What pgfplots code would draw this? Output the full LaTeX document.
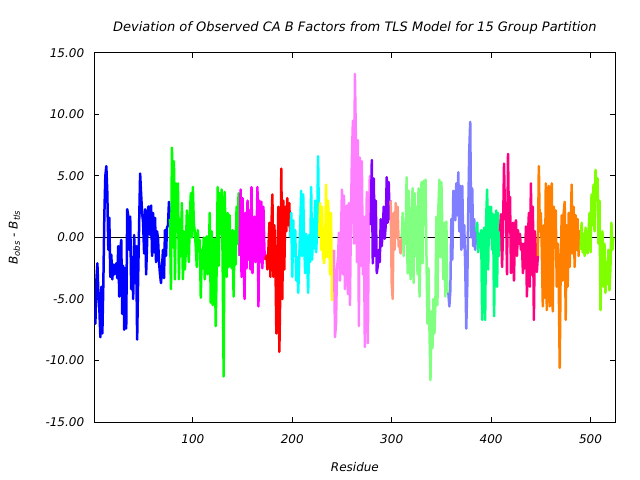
\documentclass[border=0pt]{standalone}
\usepackage{fontspec}
\setmainfont{DejaVu Sans}[ItalicFont={DejaVu Sans Oblique}]
\usepackage{pgfplots}
\pgfplotsset{compat=1.18}

\definecolor{c01}{HTML}{0000FF}
\definecolor{c02}{HTML}{00FF00}
\definecolor{c03}{HTML}{FF00FF}
\definecolor{c04}{HTML}{FF0000}
\definecolor{c05}{HTML}{00FFFF}
\definecolor{c06}{HTML}{FFFF00}
\definecolor{c07}{HTML}{FF80FF}
\definecolor{c08}{HTML}{8000FF}
\definecolor{c09}{HTML}{FF9980}
\definecolor{c10}{HTML}{80FF80}
\definecolor{c11}{HTML}{8080FF}
\definecolor{c12}{HTML}{00FF80}
\definecolor{c13}{HTML}{FF0080}
\definecolor{c14}{HTML}{FF8000}
\definecolor{c15}{HTML}{80FF00}

\begin{document}
\fontsize{12bp}{14bp}\selectfont
\begin{tikzpicture}
\begin{axis}[
    width=521bp, height=369bp, scale only axis,
    xmin=1, xmax=525, ymin=-15, ymax=15,
    xtick={100,200,300,400,500},
    ytick={-15,-10,-5,0,5,10,15},
    /pgf/number format/assume math mode=true,
    yticklabel style={/pgf/number format/fixed, /pgf/number format/fixed zerofill,
        /pgf/number format/precision=2, xshift=-6bp},
    ticklabel style={font=\itshape},
    xticklabel style={yshift=-8bp},
    tick style={black, line width=1bp},
    major tick length=5bp,
    axis line style={line width=1bp},
    title={Deviation of Observed CA B Factors from TLS Model for 15 Group Partition},
    title style={at={(axis description cs:0.5,1)}, anchor=base, yshift=16bp,
        font=\fontsize{13bp}{15bp}\selectfont\itshape},
    xlabel={Residue},
    xlabel style={at={(axis description cs:0.5,0)}, anchor=base, yshift=-49bp, font=\itshape},
    tls/.style={line width=2.5bp, line join=round, no markers},
]
\addplot[black, line width=1bp, forget plot] coordinates {(1,0) (525,0)};

\addplot[tls, c01] coordinates {
(1,-6.8)(2,-7.0)(3,-3.5)(4,-2.1)(5,-4.5)(6,-5.8)(7,-8.1)(8,-4.0)(9,-7.8)(10,-3.7)
(11,1.8)(12,5.0)(13,5.8)(14,3.6)(15,-1.0)(16,1.6)(17,-3.2)(18,-1.4)(19,-3.4)(20,-2.2)
(21,-3.0)(22,-2.3)(23,-2.1)(24,-3.3)(25,-0.7)(26,-4.8)(27,-1.0)(28,-0.2)(29,-6.2)(30,-2.3)
(31,-7.5)(32,-2.5)(33,-7.4)(34,2.3)(35,1.8)(36,-1.0)(37,1.7)(38,-4.2)(39,-1.6)(40,-5.0)
(41,0.2)(42,-3.7)(43,-0.7)(44,-8.3)(45,-3.2)(46,1.1)(47,5.2)(48,3.5)(49,2.0)(50,1.2)
(51,-1.3)(52,2.3)(53,-3.0)(54,-0.5)(55,2.5)(56,2.5)(57,0.2)(58,2.6)(59,-1.5)(60,2.0)
(61,-1.2)(62,1.6)(63,-2.0)(64,0.5)(65,-0.1)(66,-2.0)(67,-3.0)(68,-3.7)(69,-2.4)(70,-1.0)
(71,-3.3)(72,0.6)(73,-1.5)(74,0.8)(75,1.0)(76,2.9)(77,1.5)
};
\addplot[tls, c02] coordinates {
(77,1.5)(78,-4.2)(79,7.3)(80,-0.8)(81,6.2)(82,-3.4)(83,4.4)(84,0.5)(85,4.4)(86,-3.4)
(87,1.5)(88,-1.5)(89,2.8)(90,-3.4)(91,0.5)(92,-2.6)(93,-1.0)(94,2.2)(95,-0.3)(96,-2.0)
(97,1.8)(98,3.6)(99,0.0)(100,4.1)(101,1.2)(102,0.4)(103,-0.8)(104,-2.4)(105,0.6)(106,-1.1)
(107,-0.2)(108,-4.9)(109,-1.0)(110,-2.5)(111,0.0)(112,-3.4)(113,-1.3)(114,0.1)(115,-3.0)(116,-1.8)
(117,2.0)(118,-5.3)(119,0.5)(120,-5.5)(121,-0.5)(122,-0.1)(123,-7.2)(124,-2.2)(125,4.1)(126,-2.3)
(127,3.6)(128,0.3)(129,3.9)(130,-2.0)(131,-11.3)(132,3.7)(133,0.0)(134,-3.2)(135,2.0)(136,-2.4)
(137,1.8)(138,-1.6)(139,-2.5)(140,0.6)(141,-4.8)(142,0.5)(143,-2.2)(144,2.5)(145,-0.5)(146,3.6)
(147,-1.5)
};
\addplot[tls, c03] coordinates {
(147,-1.5)(148,3.9)(149,-3.2)(150,3.2)(151,-1.0)(152,-5.0)(153,2.0)(154,-2.5)(155,3.0)(156,-1.8)
(157,2.2)(158,-2.6)(159,4.1)(160,-2.9)(161,0.5)(162,1.7)(163,-2.0)(164,0.0)(165,4.1)(166,-5.6)
(167,3.0)(168,-2.0)(169,2.9)(170,-2.5)(171,2.5)(172,-1.0)(173,-1.8)
};
\addplot[tls, c04] coordinates {
(173,-1.8)(174,-1.5)(175,-2.6)(176,-1.0)(177,1.2)(178,-3.2)(179,0.8)(180,3.5)(181,-3.2)(182,1.0)
(183,-1.5)(184,-7.8)(185,-3.0)(186,2.5)(187,-9.3)(188,-4.0)(189,5.6)(190,-5.0)(191,3.0)(192,-2.6)
(193,2.5)(194,0.5)(195,3.2)(196,1.0)(197,2.8)(198,0.0)
};
\addplot[tls, c05] coordinates {
(198,0.0)(199,2.0)(200,-3.2)(201,1.4)(202,-1.5)(203,0.6)(204,-3.5)(205,-1.6)(206,-4.5)(207,-1.8)
(208,1.0)(209,3.8)(210,-1.5)(211,3.5)(212,-0.5)(213,-2.9)(214,0.3)(215,-1.8)(216,-4.5)(217,0.2)
(218,-2.0)(219,4.1)(220,-1.8)(221,1.5)(222,-0.9)(223,3.0)(224,-1.2)(225,0.5)(226,6.6)(227,0.1)
};
\addplot[tls, c06] coordinates {
(227,0.1)(228,2.8)(229,-1.0)(230,2.5)(231,-1.5)(232,-2.1)(233,-1.2)(234,4.3)(235,-1.6)(236,3.0)
(237,1.0)(238,-3.0)(239,2.0)(240,-5.1)(241,-2.0)(242,-1.0)
};
\addplot[tls, c07] coordinates {
(242,-1.0)(243,-8.1)(244,-7.0)(245,-2.5)(246,-1.6)(247,0.4)(248,-3.5)(249,0.2)(250,3.9)(251,-3.0)
(252,3.4)(253,-4.2)(254,1.2)(255,2.6)(256,-4.6)(257,2.8)(258,-5.5)(259,1.5)(260,6.5)(261,9.5)
(262,-0.5)(263,13.3)(264,8.0)(265,-2.0)(266,7.9)(267,-7.2)(268,6.5)(269,-2.3)(270,6.2)(271,-3.0)
(272,1.7)(273,-8.9)(274,-2.0)(275,3.7)(276,-8.6)(277,1.0)(278,5.0)(279,1.0)
};
\addplot[tls, c08] coordinates {
(279,1.0)(280,6.3)(281,-2.1)(282,4.8)(283,-1.5)(284,3.0)(285,-2.9)(286,-2.3)(287,-1.0)(288,-2.0)
(289,1.5)(290,-0.7)(291,0.5)(292,2.5)(293,-0.1)(294,1.0)(295,4.9)(296,1.2)(297,4.5)(298,1.5)
(299,3.0)
};
\addplot[tls, c09] coordinates {
(299,3.0)(300,-3.7)(301,-5.0)(302,2.0)(303,-1.0)(304,2.8)(305,0.0)(306,2.5)(307,-0.7)(308,-0.8)
(309,-1.3)(310,0.0)
};
\addplot[tls, c10] coordinates {
(310,0.0)(311,2.0)(312,-1.5)(313,1.2)(314,-0.5)(315,4.9)(316,-2.9)(317,3.8)(318,0.5)(319,-3.4)
(320,1.4)(321,4.0)(322,-3.7)(323,3.6)(324,-1.5)(325,2.5)(326,-3.0)(327,4.0)(328,-4.8)(329,-0.5)
(330,4.5)(331,-2.1)(332,4.6)(333,1.0)(334,4.7)(335,-1.5)(336,-7.0)(337,-2.5)(338,-7.5)(339,-11.6)
(340,-6.0)(341,-9.0)(342,-5.0)(343,-7.8)(344,-5.2)(345,1.7)(346,-5.5)(347,2.5)(348,4.7)(349,-1.6)
(350,4.5)(351,0.5)(352,-3.4)(353,1.2)(354,-4.8)(355,1.3)(356,-4.3)(357,-4.5)
};
\addplot[tls, c11] coordinates {
(357,-4.5)(358,-5.6)(359,-4.3)(360,1.5)(361,-1.8)(362,3.8)(363,3.6)(364,1.4)(365,4.4)(366,1.8)
(367,5.3)(368,0.5)(369,4.2)(370,-1.0)(371,4.2)(372,-0.8)(373,1.0)(374,-2.4)(375,-7.4)(376,-4.0)
(377,2.0)(378,7.0)(379,9.4)(380,0.0)(381,4.0)(382,-0.7)(383,1.5)(384,-1.0)(385,0.5)
};
\addplot[tls, c12] coordinates {
(385,0.5)(386,1.2)(387,-1.2)(388,0.3)(389,-0.8)(390,0.6)(391,-6.7)(392,0.0)(393,0.8)(394,-6.7)
(395,1.5)(396,3.9)(397,-2.6)(398,2.5)(399,0.0)(400,2.5)(401,-1.0)(402,1.9)(403,-6.4)(404,-0.5)
(405,2.2)(406,-4.0)(407,2.0)(408,-1.5)(409,0.5)
};
\addplot[tls, c13] coordinates {
(409,0.5)(410,1.9)(411,-2.4)(412,0.5)(413,6.0)(414,1.5)(415,2.8)(416,-3.0)(417,6.8)(418,0.5)
(419,3.3)(420,-2.9)(421,0.8)(422,1.2)(423,-3.5)(424,1.0)(425,1.4)(426,-1.5)(427,0.6)(428,-0.5)
(429,0.3)(430,-1.0)(431,-0.5)(432,-2.9)(433,-0.5)(434,-2.5)(435,0.9)(436,-4.8)(437,0.0)(438,2.0)
(439,-4.0)(440,4.4)(441,-3.0)(442,2.5)(443,-6.7)(444,0.5)(445,-1.0)(446,-2.8)(447,-1.5)
};
\addplot[tls, c14] coordinates {
(447,-1.5)(448,5.8)(449,0.5)(450,2.0)(451,-1.0)(452,-5.6)(453,1.0)(454,-4.9)(455,4.4)(456,-5.9)
(457,1.5)(458,4.2)(459,-5.6)(460,3.0)(461,4.4)(462,-6.0)(463,2.5)(464,0.0)(465,2.2)(466,-4.0)
(467,-0.5)(468,-3.5)(469,-10.6)(470,-2.0)(471,1.8)(472,-3.5)(473,2.0)(474,2.9)(475,-6.7)(476,1.0)
(477,-4.0)(478,2.0)(479,-2.4)(480,0.5)(481,4.3)(482,-1.3)(483,2.5)(484,-2.4)(485,1.8)(486,-1.0)
(487,1.5)(488,-1.5)(489,0.5)(490,-1.0)
};
\addplot[tls, c15] coordinates {
(490,-1.0)(491,1.2)(492,-1.2)(493,0.3)(494,-1.5)(495,0.8)(496,-0.6)(497,-1.3)(498,0.5)(499,2.0)
(500,-1.2)(501,3.5)(502,1.0)(503,4.3)(504,0.5)(505,5.5)(506,3.5)(507,4.8)(508,-0.5)(509,3.0)
(510,-5.9)(511,-2.0)(512,0.5)(513,-4.0)(514,-0.5)(515,-4.5)(516,-2.0)(517,-3.8)(518,-1.0)(519,-4.3)
(520,-2.5)(521,1.2)(522,-1.0)(523,0.0)
};
\end{axis}
\node[rotate=90, anchor=center, font=\itshape] at ([xshift=-80bp]current axis.west)
    {B\textsubscript{obs} - B\textsubscript{tls}};
\path ([shift={(-94.4bp,-58bp)}]current axis.south west) rectangle ++(640bp,480bp);
\end{tikzpicture}
\end{document}
